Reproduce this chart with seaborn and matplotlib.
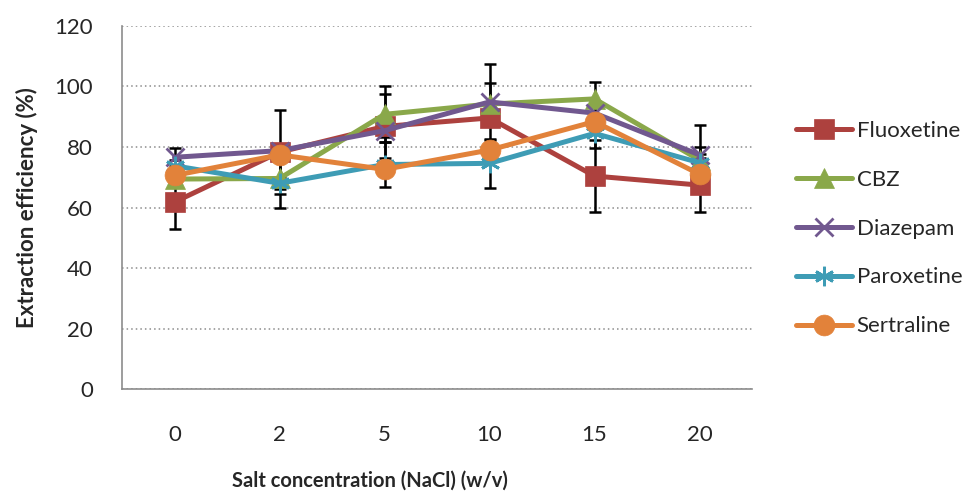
import numpy as np
import pandas as pd
import matplotlib
matplotlib.use("Agg")
import matplotlib.pyplot as plt
import seaborn as sns

# Salt concentration levels (% w/v) shown as categories
concentrations = ["0", "2", "5", "10", "15", "20"]

# Extraction efficiency (%) for each analyte
fluoxetine = [61.8, 78.3, 86.8, 89.6, 70.4, 67.4]
cbz = [69.4, 69.6, 90.8, 94.2, 95.9, 75.7]
diazepam = [76.6, 78.8, 85.4, 94.9, 91.2, 77.4]
paroxetine = [73.8, 68.0, 74.2, 74.6, 84.5, 74.8]
sertraline = [70.6, 77.4, 72.6, 79.0, 88.4, 71.0]

# Standard deviations (error bars)
fluoxetine_sd = [8.8, 13.9, 10.6, 2.0, 12.0, 9.0]
cbz_sd = [2.0, 9.6, 9.2, 7.0, 5.5, 2.0]
diazepam_sd = [3.0, 2.0, 2.0, 12.6, 2.0, 10.0]
paroxetine_sd = [2.0, 2.0, 7.3, 8.0, 4.9, 5.3]
sertraline_sd = [2.0, 2.0, 2.0, 2.0, 2.0, 2.0]

names = ["Fluoxetine", "CBZ", "Diazepam", "Paroxetine", "Sertraline"]
values = [fluoxetine, cbz, diazepam, paroxetine, sertraline]
errors = [fluoxetine_sd, cbz_sd, diazepam_sd, paroxetine_sd, sertraline_sd]

colors = ["#AD413E", "#8AA84A", "#71588F", "#3E9CB5", "#E2823A"]
markers = ["s", "^", "x", (6, 2, 0), "o"]
msizes = [14, 14, 13, 14, 15]
medges = [0.5, 0.5, 2.0, 2.0, 0.5]

rows = []
for n, v, e in zip(names, values, errors):
    for i, (c, y, s) in enumerate(zip(concentrations, v, e)):
        rows.append({"pos": i, "conc": c, "efficiency": y, "sd": s, "drug": n})
df = pd.DataFrame(rows)

sns.set_style("white")
plt.rcParams["font.family"] = ["Lato", "DejaVu Sans"]

fig = plt.figure(figsize=(9.73, 4.96), dpi=100)
ax = fig.add_axes([0.1254, 0.2157, 0.6475, 0.7319])

# Error bars sit beneath the lines and markers
for n in names:
    d = df[df["drug"] == n]
    ax.errorbar(d["pos"], d["efficiency"], yerr=d["sd"], fmt="none",
                ecolor="black", elinewidth=1.8, capsize=4.5, capthick=1.8,
                zorder=2)

for n, col, mk, ms, me in zip(names, colors, markers, msizes, medges):
    d = df[df["drug"] == n]
    sns.lineplot(data=d, x="pos", y="efficiency", ax=ax, color=col,
                 linewidth=3.6, marker=mk, markersize=ms,
                 markeredgecolor=col, markeredgewidth=me,
                 label=n, zorder=3, errorbar=None)

ax.set_xlim(-0.5, 5.5)
ax.set_ylim(0, 120)
ax.set_xticks(range(len(concentrations)))
ax.set_xticklabels(concentrations)
ax.set_yticks(np.arange(0, 121, 20))
ax.tick_params(axis="x", length=0, pad=26, labelsize=16)
ax.tick_params(axis="y", length=0, pad=21, labelsize=16)

ax.yaxis.grid(True, linestyle=(0, (1, 2)), color="#8C8C8C", linewidth=1.1)
ax.xaxis.grid(False)
ax.set_axisbelow(True)

for side in ["top", "right"]:
    ax.spines[side].set_visible(False)
for side in ["left", "bottom"]:
    ax.spines[side].set_color("#8C8C8C")
    ax.spines[side].set_linewidth(1.2)

ax.set_xlabel("Salt concentration (NaCl) (w/v)", fontsize=14.5,
              fontweight="bold", labelpad=20)
ax.xaxis.set_label_coords(0.394, -0.226)
ax.set_ylabel("Extraction efficiency (%)", fontsize=16,
              fontweight="bold", labelpad=12)

leg = ax.legend(loc="center left", bbox_to_anchor=(1.055, 0.442), frameon=False,
                fontsize=16, handlelength=2.55, handletextpad=0.2,
                labelspacing=1.3, borderaxespad=0)

fig.savefig("out.png", dpi=100)
